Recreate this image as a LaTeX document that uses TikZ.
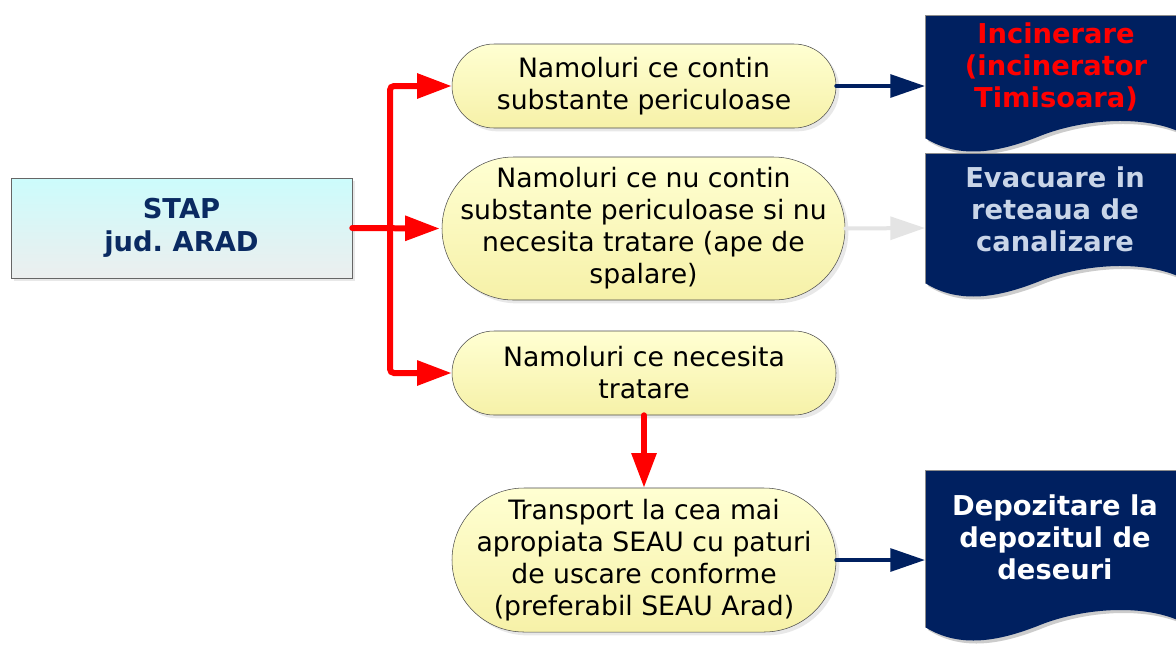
\documentclass[tikz,border=0pt]{standalone}
\usepackage{fontspec}
\setmainfont{DejaVu Sans}
\usetikzlibrary{arrows.meta,shadows}
\definecolor{navy}{HTML}{002060}
\definecolor{stapnavy}{HTML}{0A2A62}
\definecolor{pilltop}{HTML}{FFFFD2}
\definecolor{pillbot}{HTML}{F6F1A8}
\definecolor{staptop}{HTML}{CCFCFC}
\definecolor{stapbot}{HTML}{ECEEEE}
\definecolor{fadegray}{HTML}{E4E4E4}
\definecolor{fadeblue}{HTML}{C9D5E8}
\tikzset{
  pill/.style={draw=black!70, top color=pilltop, bottom color=pillbot, align=center,
    inner sep=0pt, minimum width=288pt, font=\fontsize{20}{24}\selectfont,
    drop shadow={opacity=0.18, shadow xshift=2.5pt, shadow yshift=-2.5pt}},
  redline/.style={line width=4.5pt, red, line cap=round, -{Triangle[length=26pt,width=18pt]}},
  navyline/.style={line width=3pt, navy, line cap=round, -{Triangle[length=26pt,width=17pt]}},
  doctext/.style={align=center, font=\bfseries\fontsize{20.5}{24}\selectfont},
}
\newcommand{\docshape}[2]{%
  \fill[black!20] (928,#1+3) -- (928,#2+3) .. controls (963,#2+25) and (1003,#2+17) .. (1043,#2+1)
    .. controls (1083,#2-15) and (1143,#2-21) .. (1183,#2-3) -- (1183,#1+3) -- cycle;
  \fill[navy] (925,#1) -- (925,#2) .. controls (960,#2+22) and (1000,#2+14) .. (1040,#2-2)
    .. controls (1080,#2-18) and (1140,#2-24) .. (1180,#2-6) -- (1180,#1) -- cycle;
  \draw[black!45, line width=0.6pt] (925,#2) -- (925,#1) -- (1180,#1);
}
\begin{document}
\begin{tikzpicture}[x=0.75pt,y=-0.75pt]
  \clip (0,0) rectangle (1176,644);
  \fill[white] (0,0) rectangle (1176,644);

  % result documents on the right
  \docshape{15}{138}
  \docshape{153}{283}
  \docshape{470}{627}
  \node[doctext, text=red] (incintxt) at (1056,67) {Incinerare\\(incinerator\\Timisoara)};
  \node[doctext, text=fadeblue] (canaltxt) at (1055,209) {Evacuare in\\reteaua de\\canalizare};
  \node[doctext, text=white] (depoztxt) at (1055,537) {Depozitare la\\depozitul de\\deseuri};
  \coordinate (incin) at (925,86);
  \coordinate (canal) at (925,228);
  \coordinate (depoz) at (925,560);

  % source
  \node[draw=black!60, top color=staptop, bottom color=stapbot, minimum width=255.75pt,
    minimum height=75pt, align=center, text=stapnavy,
    font=\bfseries\fontsize{20.5}{24.5}\selectfont,
    drop shadow={opacity=0.18, shadow xshift=2.5pt, shadow yshift=-2.5pt}]
    (stap) at (181.5,228) {STAP\\jud.\ ARAD};

  % sludge types
  \node[pill, minimum height=63pt, rounded corners=31.5pt] (periculos) at (644,86)
    {Namoluri ce contin\\substante periculoase};
  \node[pill, minimum width=302.25pt, minimum height=107.25pt, rounded corners=53.6pt]
    (nepericulos) at (643.5,228.5)
    {Namoluri ce nu contin\\substante periculoase si nu\\necesita tratare (ape de\\spalare)};
  \node[pill, minimum height=63pt, rounded corners=31.5pt] (tratare) at (644,373)
    {Namoluri ce necesita\\tratare};
  \node[pill, minimum height=108pt, rounded corners=54pt] (transport) at (644,560)
    {Transport la cea mai\\apropiata SEAU cu paturi\\de uscare conforme\\(preferabil SEAU Arad)};

  % connectors
  \coordinate (split) at (390,228);
  \draw[redline, rounded corners=3pt] (split) |- (periculos.west);
  \draw[redline, rounded corners=3pt] (split) |- (tratare.west);
  \draw[redline] (stap.east) -- ([xshift=-1.5pt]nepericulos.west);
  \draw[redline] (tratare.south) -- (transport.north);
  \draw[navyline] (periculos.east) -- (incin);
  \draw[navyline, fadegray] (nepericulos.east) -- (canal);
  \draw[navyline] (transport.east) -- (depoz);
\end{tikzpicture}
\end{document}
